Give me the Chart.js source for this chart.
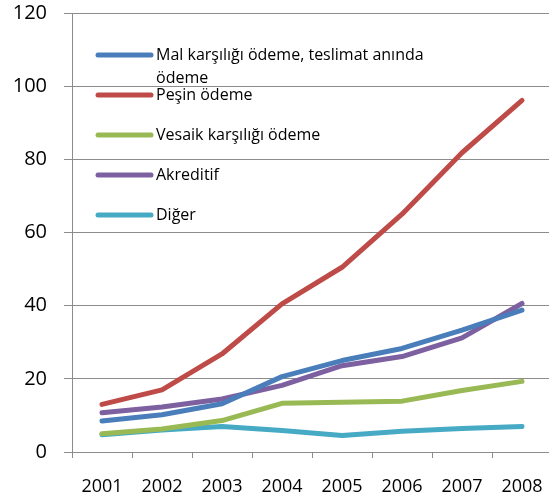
<!DOCTYPE html>
<html>
<head>
<meta charset="utf-8">
<script src="https://cdn.jsdelivr.net/npm/chart.js@4/dist/chart.umd.min.js"></script>
<style>
  html, body { margin: 0; padding: 0; background: #fff; overflow: hidden; }
  #wrap { width: 549px; height: 504px; overflow: hidden; }
  canvas { display: block; }
</style>
</head>
<body>
<div id="wrap"><canvas id="line-chart" width="552" height="504"></canvas></div>
<script>
const years = ["2001", "2002", "2003", "2004", "2005", "2006", "2007", "2008"];

const malKarsiligi = [8.5, 10.2, 13.2, 20.6, 25.0, 28.3, 33.3, 38.8];
const pesin = [13.0, 17.0, 26.8, 40.5, 50.5, 65.0, 81.8, 96.1];
const vesaik = [5.0, 6.3, 8.6, 13.3, 13.6, 13.9, 16.8, 19.3];
const akreditif = [10.7, 12.3, 14.5, 18.2, 23.6, 26.1, 31.2, 40.6];
const diger = [4.7, 6.0, 7.0, 5.9, 4.5, 5.7, 6.4, 7.0];

const seriesNames = [
  ["Mal karşılığı ödeme, teslimat anında", "ödeme"],
  ["Peşin ödeme"],
  ["Vesaik karşılığı ödeme"],
  ["Akreditif"],
  ["Diğer"]
];
const seriesData = [malKarsiligi, pesin, vesaik, akreditif, diger];
const colors = ["#4a7ebb", "#be4b48", "#98b954", "#7d60a0", "#46aac5"];

const yTicks = [0, 20, 40, 60, 80, 100, 120];

const font = "'Open Sans', 'DejaVu Sans', sans-serif";
const gridcolor = "#8c8c8c";

// legend drawn inside the plot, top-left
const insideLegend = {
  id: "insideLegend",
  afterDraw(chart) {
    const ctx = chart.ctx;
    const area = chart.chartArea;
    const x0 = area.left + 26;
    let y = area.top + 42;
    ctx.save();
    ctx.font = "16px " + font;
    ctx.textBaseline = "middle";
    ctx.fillStyle = "#000";
    chart.data.datasets.forEach((ds) => {
      ctx.strokeStyle = ds.borderColor;
      ctx.lineWidth = 5;
      ctx.lineCap = "round";
      ctx.beginPath();
      ctx.moveTo(x0, y);
      ctx.lineTo(x0 + 53, y);
      ctx.stroke();
      ds.label.forEach((t, j) => {
        ctx.fillText(t, x0 + 58, y + j * 23);
      });
      y += 40;
    });
    ctx.restore();
  }
};

new Chart(document.getElementById("line-chart"), {
  type: "line",
  data: {
    labels: years,
    datasets: seriesData.map((d, i) => ({
      label: seriesNames[i],
      data: d,
      borderColor: colors[i],
      backgroundColor: colors[i],
      borderWidth: 5,
      borderCapStyle: "round",
      borderJoinStyle: "round",
      pointRadius: 0,
      tension: 0
    }))
  },
  options: {
    responsive: false,
    animation: false,
    layout: { padding: { left: 0, top: 13, right: 0, bottom: 0 } },
    plugins: {
      legend: { display: false },
      tooltip: { enabled: false }
    },
    scales: {
      x: {
        offset: true,
        afterFit(axis) {
          axis.height = 52;
          axis.paddingLeft = 0;
          axis.paddingRight = 0;
        },
        grid: {
          offset: true,
          drawOnChartArea: false,
          drawTicks: true,
          tickLength: 6,
          color: gridcolor
        },
        border: { display: true, color: gridcolor, width: 1 },
        ticks: {
          color: "#000",
          padding: 18,
          maxRotation: 0,
          font: { family: font, size: 18 }
        }
      },
      y: {
        min: 0,
        max: 120,
        afterFit(axis) {
          axis.width = 72;
          axis.paddingTop = 0;
          axis.paddingBottom = 0;
        },
        afterBuildTicks(axis) {
          axis.ticks = yTicks.map(v => ({ value: v }));
        },
        grid: {
          color: gridcolor,
          lineWidth: 1,
          tickLength: 8
        },
        border: { display: true, color: gridcolor, width: 1 },
        ticks: {
          color: "#000",
          padding: 17,
          font: { family: font, size: 20 }
        }
      }
    }
  },
  plugins: [insideLegend]
});
</script>
</body>
</html>
